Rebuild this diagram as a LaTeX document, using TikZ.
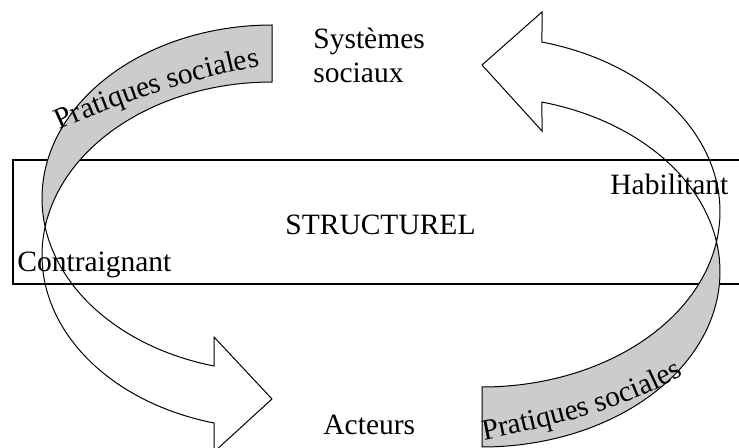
\documentclass[tikz,border=0pt]{standalone}
\usepackage{fontspec}
\setmainfont{Liberation Serif}
\usepackage{tikz}
\usetikzlibrary{decorations.text}

\tikzset{
  lbl/.style={font=\fontsize{14.75}{17}\selectfont, inner sep=0pt, anchor=base west},
  band/.style={draw, line width=0.5pt, line join=miter}
}

\begin{document}
\begin{tikzpicture}[x=0.5pt, y=0.5pt]
            \clip (0,0) rectangle (739,-448);

            % Structural frame
            \draw[line width=1pt] (13,-160) rectangle (780,-284);

            % Left arrow: shaded back part
            \draw[band, fill=gray!40] plot[domain=270:170.53, samples=60] ({272+230*cos(\x)}, {-(198.3+173.3*sin(\x))})
                -- plot[domain=189.47:270, samples=60] ({272+230*cos(\x)}, {-(255.3+173.3*sin(\x))}) -- cycle;
            % Left arrow: front part and head
            \draw[band] plot[domain=170.53:104.6, samples=60] ({272+230*cos(\x)}, {-(198.3+173.3*sin(\x))})
                -- (214,-337) -- (272,-399) -- (214,-452)
                -- plot[domain=104.6:189.47, samples=60] ({272+230*cos(\x)}, {-(255.3+173.3*sin(\x))}) -- cycle;

            % Right arrow: shaded back part
            \draw[band, fill=gray!40] plot[domain=90:-9.85, samples=60] ({482+238*cos(\x)}, {-(271.7+175.3*sin(\x))})
                -- plot[domain=9.85:90, samples=60] ({482+238*cos(\x)}, {-(211.7+175.3*sin(\x))}) -- cycle;
            % Right arrow: front part and head
            \draw[band] plot[domain=9.85:-75.4, samples=60] ({482+238*cos(\x)}, {-(211.7+175.3*sin(\x))})
                -- (542,-12) -- (482,-65) -- (542,-131)
                -- plot[domain=-75.4:-9.85, samples=60] ({482+238*cos(\x)}, {-(271.7+175.3*sin(\x))}) -- cycle;

            % Labels
            \node[lbl] (systemes) at (313,-49) {Systèmes};
            \node[lbl] (sociaux) at (313,-83) {sociaux};
            \node[lbl] (structurel) at (285,-235) {STRUCTUREL};
            \node[lbl] (habilitant) at (610,-195) {Habilitant};
            \node[lbl] (contraignant) at (17,-272) {Contraignant};
            \node[lbl] (acteurs) at (323,-435) {Acteurs};

            % Curved texts on the shaded parts
            \path[decorate, decoration={text along path, text align=left,
                text={|\fontsize{14.75}{17}\selectfont|Pratiques sociales}}]
                (60,-130) .. controls (115,-105) and (185,-80) .. (270,-64);
            \path[decorate, decoration={text along path, text align=left,
                text={|\fontsize{14.75}{17}\selectfont|Pratiques sociales}}]
                (484,-440) .. controls (560,-425) and (640,-405) .. (700,-365);

        \end{tikzpicture}
\end{document}
